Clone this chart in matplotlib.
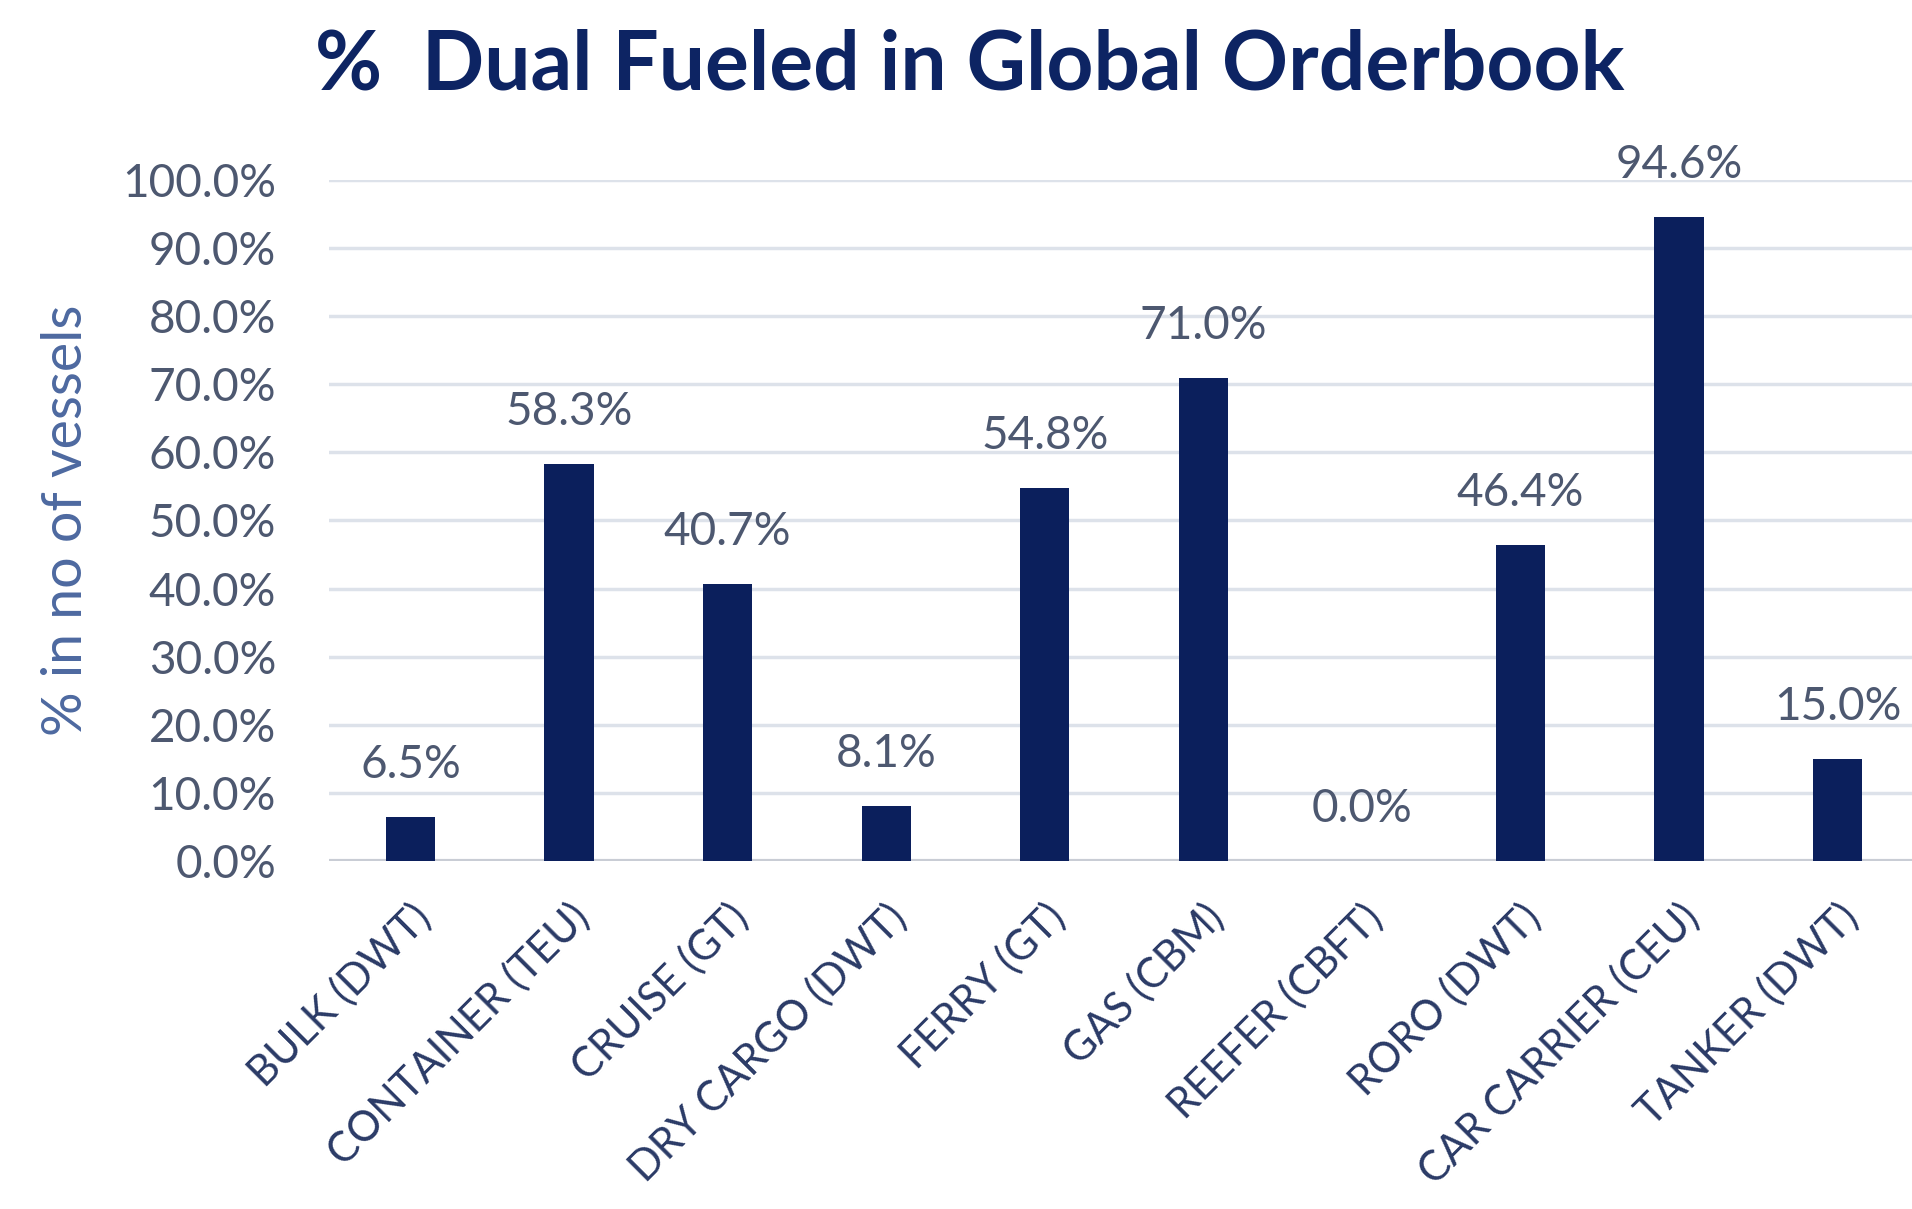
import matplotlib.pyplot as plt
import numpy as np

categories = ['BULK (DWT)', 'CONTAINER (TEU)', 'CRUISE (GT)', 'DRY CARGO (DWT)',
              'FERRY (GT)', 'GAS (CBM)', 'REEFER (CBFT)', 'RORO (DWT)',
              'CAR CARRIER (CEU)', 'TANKER (DWT)']
values = [6.5, 58.3, 40.7, 8.1, 54.8, 71.0, 0.0, 46.4, 94.6, 15.0]
yticks = [0, 10, 20, 30, 40, 50, 60, 70, 80, 90, 100]

navy = '#0b1f5c'
text_grey = '#4d5870'

fig = plt.figure(figsize=(19.12, 12.09), dpi=100)
ax = fig.add_axes([0.172, 0.288, 0.828, 0.563])

x = np.arange(len(categories))
ax.bar(x, values, width=0.31, color=navy, zorder=3)

for xi, v in zip(x, values):
    ax.annotate('{:.1f}%'.format(v), (xi, v), xytext=(0, 22), textcoords='offset points',
                ha='center', va='bottom', fontsize=33, family='Lato',
                color=text_grey)

ax.set_xlim(-0.515, 9.47)
ax.set_ylim(0, 100)
ax.set_yticks(yticks)
ax.set_yticklabels(['{:.1f}%'.format(t) for t in yticks], fontsize=33, family='Lato',
                   color=text_grey)
ax.grid(axis='y', color='#dde2ea', linewidth=2.5, zorder=0)
ax.axhline(0, color='#c9cdd5', linewidth=3, zorder=2)

ax.set_xticks(x)
ax.set_xticklabels(categories, rotation=45, ha='right', rotation_mode='anchor',
                   fontsize=30, family='Lato', color='#2a3a66')
ax.tick_params(axis='x', length=0, pad=26)
ax.tick_params(axis='y', length=0, pad=38)

for s in ax.spines.values():
    s.set_visible(False)

ax.set_ylabel('% in no of vessels', fontsize=40, family='Lato',
              color='#4d69a0', labelpad=22)

fig.text(0.507, 0.945, '%  Dual Fueled in Global Orderbook', ha='center', va='center',
         fontsize=59, fontweight='bold', family='Lato', color='#0d2463')

fig.savefig('out.png', dpi=100, facecolor='white')
